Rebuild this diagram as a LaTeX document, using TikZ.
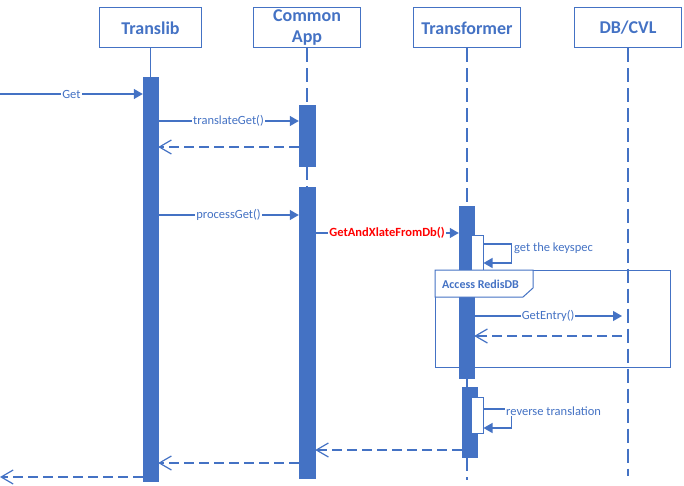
\documentclass[tikz,border=0pt]{standalone}
\usepackage{fontspec}
\setmainfont{Carlito}
\usepackage{xcolor}
\usetikzlibrary{arrows.meta,positioning,calc}

\definecolor{seqblue}{HTML}{4472C4}
\definecolor{seqred}{HTML}{FF0000}

\tikzset{
  lifebox/.style={draw=seqblue,line width=1pt,minimum width=107pt,minimum height=40pt,
    inner sep=0pt,align=center,text=seqblue,font=\fontsize{18}{21}\selectfont\bfseries},
  lifeline/.style={seqblue,line width=1.2pt,dash pattern=on 14pt off 6pt},
  solidline/.style={seqblue,line width=1.2pt},
  actbar/.style={fill=seqblue,draw=seqblue,minimum width=15pt,inner sep=0pt,anchor=north},
  selfbar/.style={fill=white,draw=seqblue,line width=1pt,minimum width=12pt,inner sep=0pt,anchor=north},
  msg/.style={seqblue,line width=1.2pt,-{Triangle[length=9pt,width=10pt]}},
  ret/.style={seqblue,line width=1.2pt,dash pattern=on 10pt off 5pt,-{Straight Barb[length=12pt,width=14pt]}},
  lbl/.style={fill=white,inner sep=1pt,text=seqblue,font=\fontsize{12.5}{14}\selectfont}
}

\begin{document}
\begin{tikzpicture}[x=1pt,y=-1pt]
    \useasboundingbox (0,0) rectangle (684,486);

    % Participants
    \node[lifebox,minimum width=102pt] (tl) at (150.5,28) {Translib};
    \node[lifebox] (ca) at (307,28) {Common\\App};
    \node[lifebox] (tf) at (467,28) {Transformer};
    \node[lifebox] (db) at (628,28) {DB/CVL};

    % Message levels
    \foreach \n/\y in {get/94, tg/121, tgr/147, pg/215, gx/233, key/244, keyb/263,
                       ent/316, entr/336, rev/409, revb/428, r1/450, r2/463, r3/477, tfend/480}
        \coordinate (y\n) at (0,\y);

    % Activation bars
    \node[actbar,minimum height=404pt] (tlbar) at (150.5,77) {};
    \node[actbar,minimum height=61pt,minimum width=16pt] (cabar1) at (307,105) {};
    \node[actbar,minimum height=291pt,minimum width=16pt] (cabar2) at (307,187) {};
    \node[actbar,minimum height=172pt] (tfbar1) at (466.5,206) {};
    \node[actbar,minimum height=70pt] (tfbar2) at (469.5,387) {};
    \node[selfbar,minimum height=35pt] (tfself1) at (477,235) {};
    \node[selfbar,minimum height=36pt] (tfself2) at (477,397) {};

    % Lifelines
    \draw[solidline] (tl.south) -- (tlbar.north);
    \draw[lifeline] (ca.south) -- (cabar1.north);
    \draw[lifeline] (cabar1.south) -- (cabar2.north);
    \draw[lifeline] (tf.south) -- (tf.south |- tfbar1.north);
    \draw[solidline] (tf.south |- tfbar1.south) -- (tf.south |- tfbar2.north);
    \draw[lifeline] (tf.south |- tfbar2.south) -- (tf.south |- ytfend);
    \draw[lifeline] (db.south) -- ++(0,427);
    \coordinate (dbact) at ($(db.south)+(-6,0)$);

    % Access RedisDB frame
    \node[draw=seqblue,line width=1pt,minimum width=235pt,minimum height=97pt,
          inner sep=0pt,anchor=north west] (redis) at (435,270) {};
    \draw[seqblue,line width=1pt,fill=white] (redis.north west) -- ++(0,27) -- ++(88,0)
        -- ++(10,-9) -- ($(redis.north west)+(98,0)$) -- cycle;
    \node[anchor=west,text=seqblue,font=\fontsize{12}{14}\selectfont\bfseries,inner sep=0pt]
        (redislbl) at ($(redis.north west)+(7,14)$) {Access RedisDB};

    % Calls
    \draw[msg] (yget) -- (tlbar.west |- yget) node[lbl,midway] {Get};
    \draw[msg] (tlbar.east |- ytg) -- (cabar1.west |- ytg) node[lbl,midway] {translateGet()};
    \draw[ret] (cabar1.west |- ytgr) -- (tlbar.east |- ytgr);
    \draw[msg] (tlbar.east |- ypg) -- (cabar2.west |- ypg) node[lbl,midway] {processGet()};
    \draw[msg] (cabar2.east |- ygx) -- (tfbar1.west |- ygx)
        node[lbl,midway,text=seqred,font=\fontsize{12.5}{14}\selectfont\bfseries] {GetAndXlateFromDb()};

    % Self call: keyspec
    \draw[msg] (tfself1.east |- ykey) -- ++(28,0) |- (tfself1.east |- ykeyb);
    \node[lbl,anchor=west,fill=none] (keylbl) at (513,248) {get the keyspec};

    % Redis access
    \draw[msg] (tfbar1.east |- yent) -- (dbact |- yent) node[lbl,midway] {GetEntry()};
    \draw[ret] (dbact |- yentr) -- (tfbar1.east |- yentr);

    % Self call: reverse translation
    \draw[msg] (tfself2.east |- yrev) -- ++(28,0) |- (tfself2.east |- yrevb);
    \node[lbl,anchor=west] (revlbl) at (505,411) {reverse translation};

    % Returns
    \draw[ret] (tfbar2.west |- yr1) -- (cabar2.east |- yr1);
    \draw[ret] (cabar2.west |- yr2) -- (tlbar.east |- yr2);
    \draw[ret] (tlbar.west |- yr3) -- (yr3);
\end{tikzpicture}
\end{document}
